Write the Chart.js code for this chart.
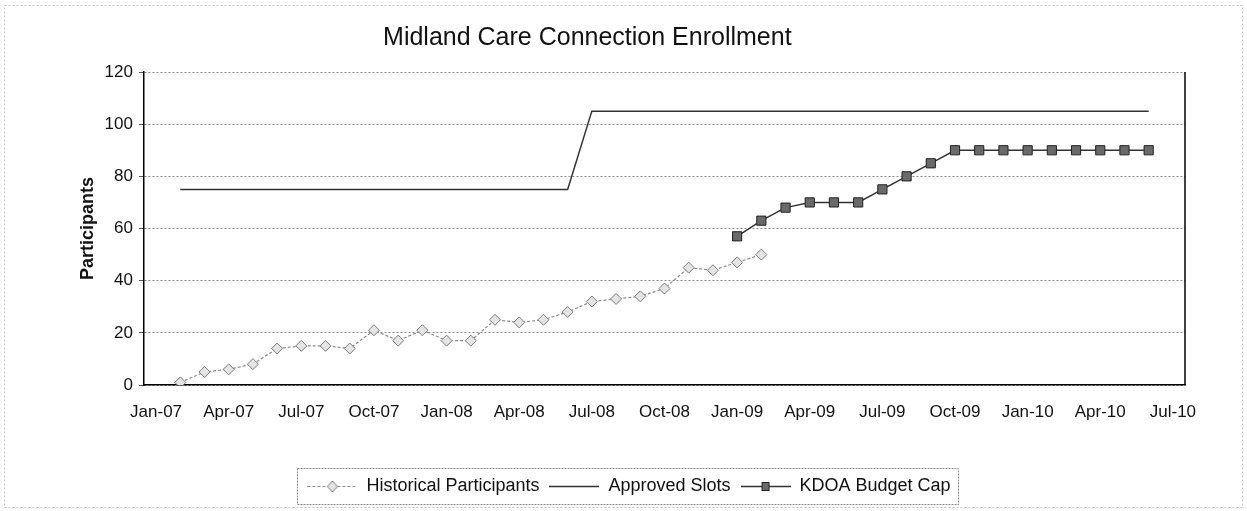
<!DOCTYPE html>
<html>
<head>
<meta charset="utf-8">
<title>Midland Care Connection Enrollment</title>
<script src="https://cdn.jsdelivr.net/npm/chart.js@4.4.0/dist/chart.umd.min.js"></script>
<style>
  html, body { margin: 0; padding: 0; background: #fff; }
  #wrap { width: 1247px; height: 511px; }
</style>
</head>
<body>
<div id="wrap"><canvas id="enrollChart" width="1247" height="511"></canvas></div>
<script>
// ---- Data (monthly, Jan-07 .. Jul-10) ----
const monthLabels = [
  "Jan-07", "Feb-07", "Mar-07", "Apr-07", "May-07", "Jun-07", "Jul-07", "Aug-07", "Sep-07", "Oct-07", "Nov-07", "Dec-07",
  "Jan-08", "Feb-08", "Mar-08", "Apr-08", "May-08", "Jun-08", "Jul-08", "Aug-08", "Sep-08", "Oct-08", "Nov-08", "Dec-08",
  "Jan-09", "Feb-09", "Mar-09", "Apr-09", "May-09", "Jun-09", "Jul-09", "Aug-09", "Sep-09", "Oct-09", "Nov-09", "Dec-09",
  "Jan-10", "Feb-10", "Mar-10", "Apr-10", "May-10", "Jun-10", "Jul-10"
];

// quarterly labels shown on the x axis
const quarterLabels = [
  "Jan-07", "Apr-07", "Jul-07", "Oct-07", "Jan-08", "Apr-08", "Jul-08", "Oct-08",
  "Jan-09", "Apr-09", "Jul-09", "Oct-09", "Jan-10", "Apr-10", "Jul-10"
];

const yTicks = [0, 20, 40, 60, 80, 100, 120];

const historicalParticipants = [
  null, 1, 5, 6, 8, 14, 15, 15, 14, 21, 17, 21,
  17, 17, 25, 24, 25, 28, 32, 33, 34, 37, 45, 44,
  47, 50, null, null, null, null, null, null, null, null, null, null,
  null, null, null, null, null, null, null
];

const approvedSlots = [
  null, 75, 75, 75, 75, 75, 75, 75, 75, 75, 75, 75,
  75, 75, 75, 75, 75, 75, 105, 105, 105, 105, 105, 105,
  105, 105, 105, 105, 105, 105, 105, 105, 105, 105, 105, 105,
  105, 105, 105, 105, 105, 105, null
];

const kdoaBudgetCap = [
  null, null, null, null, null, null, null, null, null, null, null, null,
  null, null, null, null, null, null, null, null, null, null, null, null,
  57, 63, 68, 70, 70, 70, 75, 80, 85, 90, 90, 90,
  90, 90, 90, 90, 90, 90, null
];

const seriesNames = ["Historical Participants", "Approved Slots", "KDOA Budget Cap"];

// ---- Styles ----
const FONT = "'Liberation Sans', Arial, sans-serif";
Chart.defaults.font.family = FONT;
Chart.defaults.color = "#111";

// small canvas used as legend symbol: line with marker in the middle
function legendSymbol(color, dash, width, marker) {
  const c = document.createElement("canvas");
  c.width = 50;
  c.height = 14;
  const g = c.getContext("2d");
  g.strokeStyle = color;
  g.lineWidth = width;
  g.setLineDash(dash);
  g.beginPath();
  g.moveTo(0, 7.5);
  g.lineTo(50, 7.5);
  g.stroke();
  g.setLineDash([]);
  if (marker === "diamond") {
    g.fillStyle = "#e4e4e4";
    g.strokeStyle = "#7a7a7a";
    g.lineWidth = 1;
    g.beginPath();
    g.moveTo(25, 2); g.lineTo(30, 7.5); g.lineTo(25, 13); g.lineTo(20, 7.5);
    g.closePath();
    g.fill(); g.stroke();
  } else if (marker === "square") {
    g.fillStyle = "#6a6a6a";
    g.strokeStyle = "#222";
    g.lineWidth = 1;
    g.fillRect(21, 3, 8, 9);
    g.strokeRect(21.5, 3.5, 7, 8);
  }
  return c;
}

const symbols = [
  legendSymbol("#8c8c8c", [3, 2], 1.2, "diamond"),
  legendSymbol("#333", [], 1.5, null),
  legendSymbol("#333", [], 1.5, "square")
];

// ---- Extra frames (plot right edge, legend box, outer border) ----
const framePlugin = {
  id: "frames",
  afterDraw(chart) {
    const ctx = chart.ctx;
    const a = chart.chartArea;
    ctx.save();

    ctx.strokeStyle = "#000";
    ctx.lineWidth = 1.5;
    ctx.beginPath();
    ctx.moveTo(a.right, a.top);
    ctx.lineTo(a.right, a.bottom);
    ctx.stroke();

    const boxes = chart.legend.legendHitBoxes;
    if (boxes && boxes.length) {
      const l = Math.min(...boxes.map(b => b.left)) - 10;
      const r = Math.max(...boxes.map(b => b.left + b.width)) + 8;
      const t = boxes[0].top - 9;
      const h = boxes[0].height + 18;
      ctx.strokeStyle = "#8a8a8a";
      ctx.lineWidth = 1;
      ctx.setLineDash([2, 1]);
      ctx.strokeRect(Math.round(l) + 0.5, Math.round(t) + 0.5, Math.round(r - l), Math.round(h));
    }

    ctx.strokeStyle = "#c4c4c4";
    ctx.setLineDash([2, 2]);
    ctx.strokeRect(4.5, 5.5, chart.width - 9, chart.height - 9);
    ctx.restore();
  }
};

// ---- Chart ----
const ctx = document.getElementById("enrollChart").getContext("2d");

const enrollChart = new Chart(ctx, {
  type: "line",
  data: {
    labels: monthLabels,
    datasets: [
      {
        label: seriesNames[0],
        data: historicalParticipants,
        borderColor: "#8c8c8c",
        borderWidth: 1.2,
        borderDash: [3, 2],
        pointStyle: "rectRot",
        pointRadius: 5.5,
        pointBackgroundColor: "#e4e4e4",
        pointBorderColor: "#7a7a7a",
        pointBorderWidth: 1,
        tension: 0
      },
      {
        label: seriesNames[1],
        data: approvedSlots,
        borderColor: "#333",
        borderWidth: 1.5,
        pointRadius: 0,
        tension: 0
      },
      {
        label: seriesNames[2],
        data: kdoaBudgetCap,
        borderColor: "#333",
        borderWidth: 1.5,
        pointStyle: "rect",
        pointRadius: 6.5,
        pointBackgroundColor: "#6a6a6a",
        pointBorderColor: "#222",
        pointBorderWidth: 1,
        tension: 0
      }
    ]
  },
  options: {
    responsive: false,
    animation: false,
    spanGaps: false,
    layout: { padding: { left: 73, right: 62, top: 0, bottom: 6 } },
    plugins: {
      title: {
        display: true,
        // trailing spaces keep the title a bit left of centre, as in the original
        text: "Midland Care Connection Enrollment" + "\u00a0".repeat(12),
        color: "#111",
        font: { size: 25, weight: "normal" },
        padding: { top: 23, bottom: 19 }
      },
      legend: {
        position: "bottom",
        labels: {
          usePointStyle: true,
          pointStyleWidth: 50,
          padding: 10,
          color: "#111",
          font: { size: 18 },
          generateLabels(chart) {
            const items = Chart.defaults.plugins.legend.labels.generateLabels(chart);
            items.forEach((it, i) => { it.pointStyle = symbols[i]; });
            return items;
          }
        }
      },
      tooltip: { enabled: false }
    },
    scales: {
      x: {
        type: "category",
        offset: true,
        grid: { display: false, drawTicks: false },
        border: { display: true, color: "#000", width: 1.5 },
        ticks: {
          autoSkip: false,
          maxRotation: 0,
          padding: 17,
          color: "#111",
          font: { size: 17 },
          callback(value) {
            const lab = this.getLabelForValue(value);
            return quarterLabels.includes(lab) ? lab : "";
          }
        },
        afterFit(scale) { scale.height = 82; }
      },
      y: {
        min: yTicks[0],
        max: yTicks[yTicks.length - 1],
        grid: {
          color: "#8a8a8a",
          lineWidth: 1,
          drawTicks: true,
          tickLength: 5,
          tickColor: "#555",
          tickBorderDash: []
        },
        // in Chart.js v4 border.dash sets the dash of the grid lines
        border: { display: true, color: "#000", width: 1.5, dash: [2, 2] },
        ticks: {
          stepSize: 20,
          padding: 6,
          color: "#111",
          font: { size: 17 }
        },
        afterBuildTicks(scale) { scale.ticks = yTicks.map(v => ({ value: v })); },
        title: {
          display: true,
          text: "Participants",
          color: "#111",
          font: { size: 18, weight: "bold" },
          padding: { top: 4, bottom: 0 }
        }
      }
    }
  },
  plugins: [framePlugin]
});
</script>
</body>
</html>
